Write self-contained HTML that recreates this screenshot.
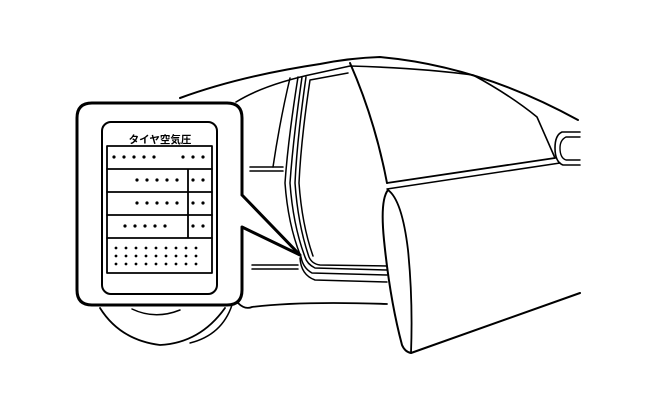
<!DOCTYPE html>
<html><head><meta charset="utf-8"><style>
html,body{margin:0;padding:0;background:#fff;}
svg{display:block;}
</style></head><body>
<svg width="650" height="414" viewBox="0 0 650 414" xmlns="http://www.w3.org/2000/svg" fill="none" stroke="#000" stroke-linecap="round" stroke-linejoin="round">
<path d="M180,98 Q240,76 320,64 Q350,58 380,57 Q480,66 578,120" stroke-width="2"/>
<path d="M236,102 Q265,84 318,73 L350,66 Q420,68 473,75 Q510,95 537,117 L555,158" stroke-width="1.6"/>
<path d="M350,63 Q375,120 387,183" stroke-width="2"/>
<path d="M387,183 L555,158" stroke-width="1.8"/>
<path d="M387,189 L560,163" stroke-width="1.5"/>
<path d="M580,132 L562,132 Q555,135 555,148 Q555,162 563,165 L580,165" stroke-width="1.6"/>
<path d="M580,137 L566,137 Q560,140 560,148 Q560,158 566,160 L580,160" stroke-width="1.4"/>
<path d="M388,190 Q380,200 384,240 Q390,300 402,345 Q405,352 411,353 L580,293" stroke-width="2"/>
<path d="M388,190 Q402,200 408,250 Q413,300 411,353" stroke-width="1.8"/>
<path d="M290,78 Q280,120 273,167" stroke-width="1.5"/>
<path d="M298,77 Q288,140 285,183 Q288,225 301,257 Q303,268 312,273 L387,275" stroke-width="1.5"/>
<path d="M302,77 Q293,140 290,183 Q293,225 305,257 Q307,264 315,268 L387,270" stroke-width="1.5"/>
<path d="M306,77 Q297,140 295,183 Q298,225 309,257 Q312,264 320,265 L387,266" stroke-width="1.5"/>
<path d="M310,80 L348,73 M310,80 Q301,140 299,183 Q302,225 313,256" stroke-width="1.5"/>
<path d="M300,258 Q301,275 315,280 L387,282" stroke-width="1.5"/>
<path d="M250,167 L283,167 M250,171 L283,171" stroke-width="1.5"/>
<path d="M252,265 L298,265 M252,269 L298,269" stroke-width="1.5"/>
<path d="M238,303 Q245,310 252,307 Q300,301 387,304" stroke-width="1.8"/>
<path d="M100,308 Q120,340 160,345 Q200,343 225,308" stroke-width="1.8"/>
<path d="M232,305 Q222,335 190,343" stroke-width="1.5"/>
<path d="M132,309 Q155,320 180,310" stroke-width="1.5"/>
<path d="M242,195 L242,118 Q242,103 227,103 L92,103 Q77,103 77,118 L77,290 Q77,305 92,305 L227,305 Q242,305 242,290 L242,227 L300,255 L242,195" stroke-width="3" fill="#fff"/>
<rect x="102" y="122" width="115" height="172" rx="9" stroke-width="2"/>
<text x="160" y="143" font-family="'Liberation Sans','Noto Sans CJK JP',sans-serif" font-size="10.5" font-weight="bold" text-anchor="middle" fill="#000" stroke="none">タイヤ空気圧</text>
<g stroke-width="1.8">
<rect x="107" y="146" width="105" height="127"/>
<path d="M107,169 H212 M107,192 H212 M107,215 H212 M107,238 H212 M188,169 V238"/>
</g>
<g fill="#000" stroke="none">
<circle cx="114" cy="157" r="1.6"/><circle cx="124" cy="157" r="1.6"/><circle cx="134" cy="157" r="1.6"/><circle cx="144" cy="157" r="1.6"/><circle cx="154" cy="157" r="1.6"/>
<circle cx="183" cy="157" r="1.6"/><circle cx="193" cy="157" r="1.6"/><circle cx="203" cy="157" r="1.6"/>
<circle cx="137" cy="180" r="1.6"/><circle cx="147" cy="180" r="1.6"/><circle cx="157" cy="180" r="1.6"/><circle cx="167" cy="180" r="1.6"/><circle cx="177" cy="180" r="1.6"/><circle cx="193" cy="180" r="1.6"/><circle cx="203" cy="180" r="1.6"/>
<circle cx="137" cy="203" r="1.6"/><circle cx="147" cy="203" r="1.6"/><circle cx="157" cy="203" r="1.6"/><circle cx="167" cy="203" r="1.6"/><circle cx="177" cy="203" r="1.6"/><circle cx="193" cy="203" r="1.6"/><circle cx="203" cy="203" r="1.6"/>
<circle cx="125" cy="226" r="1.6"/><circle cx="135" cy="226" r="1.6"/><circle cx="145" cy="226" r="1.6"/><circle cx="155" cy="226" r="1.6"/><circle cx="165" cy="226" r="1.6"/><circle cx="193" cy="226" r="1.6"/><circle cx="203" cy="226" r="1.6"/>
</g>
<g fill="#000" stroke="none">
<g id="dr"><circle cx="116" cy="248" r="1.4"/><circle cx="126" cy="248" r="1.4"/><circle cx="136" cy="248" r="1.4"/><circle cx="146" cy="248" r="1.4"/><circle cx="156" cy="248" r="1.4"/><circle cx="166" cy="248" r="1.4"/><circle cx="176" cy="248" r="1.4"/><circle cx="186" cy="248" r="1.4"/><circle cx="196" cy="248" r="1.4"/></g>
<use href="#dr" y="8"/><use href="#dr" y="16"/>
</g>
</svg>
</body></html>
